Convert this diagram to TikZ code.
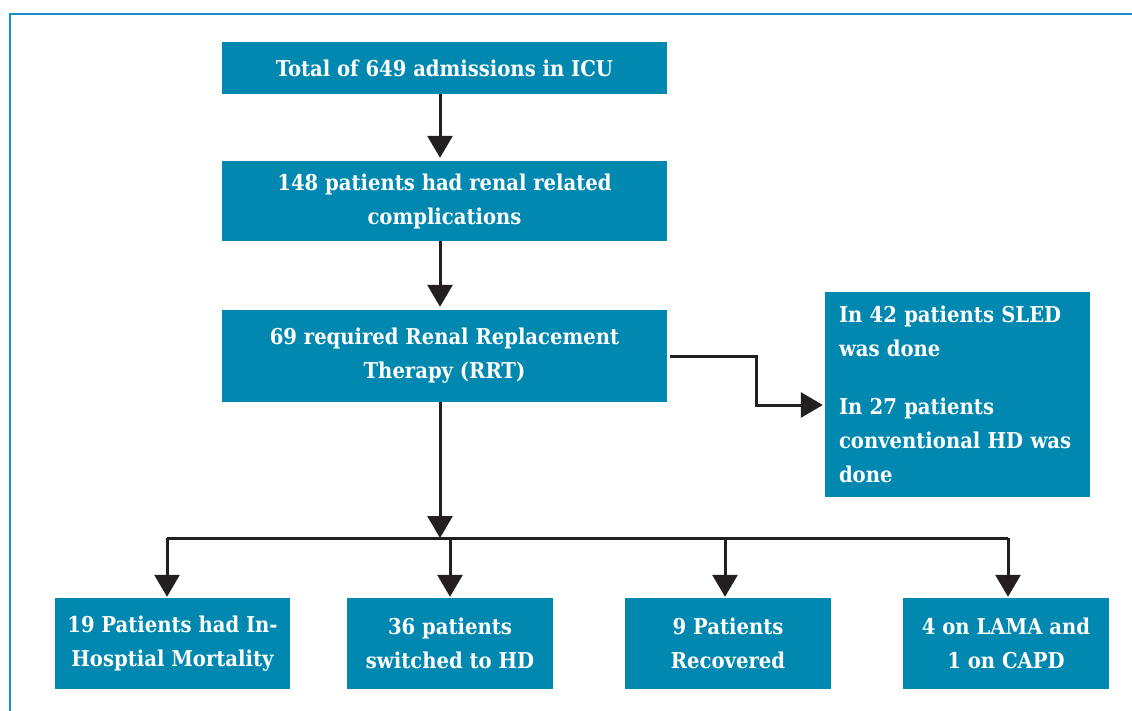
\documentclass[tikz,border=0pt]{standalone}
\usepackage{fontspec}
\setmainfont{DejaVu Serif Condensed}
\usepackage{tikz}
\usetikzlibrary{arrows.meta}

\definecolor{boxblue}{RGB}{0,136,176}
\definecolor{framblue}{RGB}{20,145,190}
\definecolor{linegray}{RGB}{35,31,32}

\begin{document}
\begin{tikzpicture}[x=1pt,y=-1pt,
		box/.style={fill=boxblue, text=white, font=\bfseries\fontsize{21.8}{34}\selectfont, inner sep=0pt, align=center},
		arr/.style={draw=linegray, line width=3pt, -{Triangle[width=25pt,length=22pt]}},
		bus/.style={draw=linegray, line width=3pt}]
			\useasboundingbox (0,0) rectangle (1132,711);
			\draw[framblue, line width=2pt] (10,711) -- (10,14) -- (1132,14);
			% top chain
			\node[box, minimum width=445pt, minimum height=52pt] (total) at (444.5,68) {Total of 649 admissions in ICU};
			\node[box, minimum width=445pt, minimum height=80pt] (renal) at (444.5,201) {148 patients had renal related\\complications};
			\node[box, minimum width=445pt, minimum height=92pt] (rrt) at (444.5,356) {69 required Renal Replacement\\Therapy (RRT)};
			\node[box, minimum width=265pt, minimum height=205pt, text width=237pt, align=left] (dialysis) at (957.5,394.5) {In 42 patients SLED\\was done\\[24pt]In 27 patients\\conventional HD was\\done};
			% outcomes
			\node[box, minimum width=235pt, minimum height=91pt] (mort) at (172.5,643.5) {19 Patients had In-\\Hosptial Mortality};
			\node[box, minimum width=206pt, minimum height=91pt] (switched) at (450,643.5) {36 patients\\switched to HD};
			\node[box, minimum width=206pt, minimum height=91pt] (recovered) at (728,643.5) {9 Patients\\Recovered};
			\node[box, minimum width=206pt, minimum height=91pt] (lama) at (1006,643.5) {4 on LAMA and\\1 on CAPD};
			\coordinate (split) at (440,538);
			\coordinate (bend) at (756,356);
			\draw[arr] ([xshift=-4.5pt]total.south) -- ([xshift=-4.5pt,yshift=3pt]renal.north);
			\draw[arr] ([xshift=-4.5pt]renal.south) -- ([xshift=-4.5pt,yshift=3pt]rrt.north);
			\draw[arr] ([xshift=-4.5pt]rrt.south) -- (split);
			\draw[arr] ([xshift=3pt]rrt.east) -- (bend) |- ([xshift=-2pt,yshift=-10.5pt]dialysis.west);
			\draw[bus] ([xshift=-5.5pt]split -| mort.north) -- ([xshift=2pt]split -| lama.north);
			\foreach \n/\dx in {mort/-5.5,switched/0,recovered/-3,lama/2}
				\draw[arr] ([xshift=\dx pt]split -| \n.north) -- ([xshift=\dx pt,yshift=1pt]\n.north);
		\end{tikzpicture}
\end{document}
